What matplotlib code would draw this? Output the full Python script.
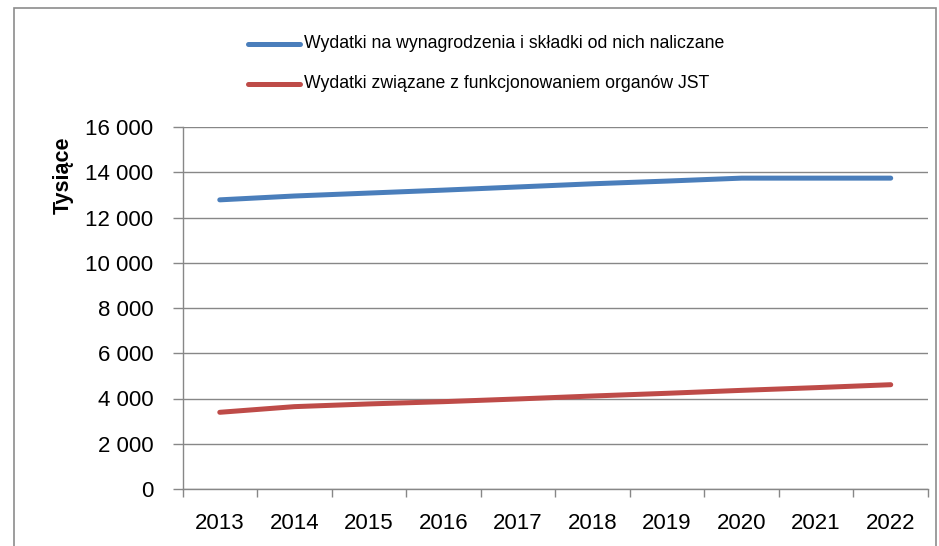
import matplotlib.pyplot as plt
from matplotlib.patches import Rectangle
from matplotlib.lines import Line2D

years = ["2013", "2014", "2015", "2016", "2017", "2018", "2019", "2020", "2021", "2022"]
wynagrodzenia = [12780, 12950, 13080, 13210, 13350, 13490, 13610, 13740, 13740, 13740]
organy_jst = [3390, 3640, 3760, 3860, 3980, 4110, 4230, 4360, 4480, 4610]
yticks = [0, 2000, 4000, 6000, 8000, 10000, 12000, 14000, 16000]

labels = [
    "Wydatki na wynagrodzenia i składki od nich naliczane",
    "Wydatki związane z funkcjonowaniem organów JST",
]
colors = ["#4A7EBB", "#BE4B48"]
gridcol = "#878787"

plt.rcParams["font.family"] = ["Liberation Sans", "DejaVu Sans"]

fig = plt.figure(figsize=(9.39, 5.46), dpi=100)
ax = fig.add_axes([182.5 / 939, 57 / 546, (928 - 182.5) / 939, 362 / 546])

x = list(range(len(years)))
ax.plot(x, wynagrodzenia, color=colors[0], lw=3.6, solid_capstyle="round", zorder=3)
ax.plot(x, organy_jst, color=colors[1], lw=3.6, solid_capstyle="round", zorder=3)

ax.set_xlim(-0.5, len(years) - 0.5)
ax.set_ylim(0, 16000)
ax.set_yticks(yticks)
ax.set_yticklabels([f"{v:,}".replace(",", " ") for v in yticks], fontsize=16)
ax.set_xticks(x)
ax.set_xticklabels(years, fontsize=16)
ax.set_xticks([i - 0.5 for i in range(len(years) + 1)], minor=True)
ax.tick_params(axis="x", which="major", length=0, pad=17)
ax.tick_params(axis="x", which="minor", length=6, color=gridcol, width=1)
ax.tick_params(axis="y", length=7, color=gridcol, width=1, pad=14)

ax.grid(axis="y", color=gridcol, lw=1)
ax.set_axisbelow(True)
for s in ["top", "right"]:
    ax.spines[s].set_visible(False)
for s in ["left", "bottom"]:
    ax.spines[s].set_color(gridcol)
    ax.spines[s].set_linewidth(1)

fig.text(63 / 939, 1 - 175 / 546, "Tysiące", rotation=90, ha="center", va="center",
         fontsize=15.5, fontweight="bold")

# legend drawn by hand, Excel-like
for i, (lab, col) in enumerate(zip(labels, colors)):
    yy = 1 - (44 + 40 * i) / 546
    fig.add_artist(Line2D([248 / 939, 300 / 939], [yy, yy], color=col, lw=3.6,
                          solid_capstyle="round", transform=fig.transFigure))
    fig.text(304 / 939, yy, lab, ha="left", va="center", fontsize=12.7)

fig.add_artist(Rectangle((14 / 939, -0.05), (936 - 14) / 939, 1.05 - 8 / 546,
                         transform=fig.transFigure, fill=False, ec="#8c8c8c", lw=1.2))

fig.savefig("out.png", dpi=100)
